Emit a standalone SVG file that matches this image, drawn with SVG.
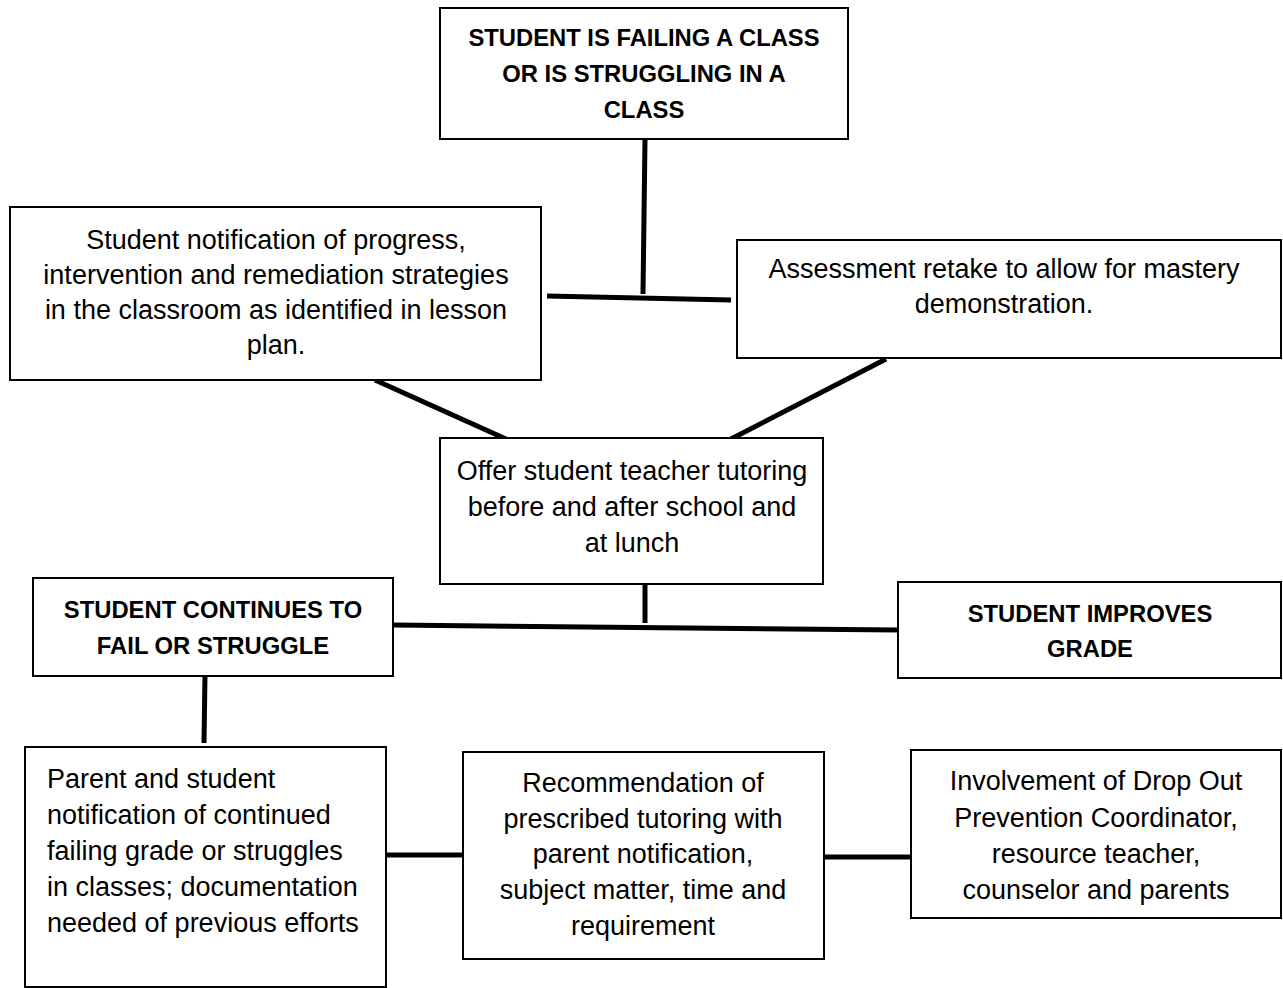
<svg xmlns="http://www.w3.org/2000/svg" width="1283" height="988" viewBox="0 0 1283 988">
<style>
.box{fill:#fff;stroke:#000;stroke-width:2}
.t{font-family:"Liberation Sans",Arial,sans-serif;font-size:27px;fill:#000;text-anchor:middle}
.b{font-weight:bold;font-size:23.8px}
.l{text-anchor:start}
.c{stroke:#000;stroke-width:5;fill:none}
</style>
<rect width="1283" height="988" fill="#fff"/>
<g id="connectors">
<line class="c" x1="645" y1="139" x2="643" y2="294"/>
<line class="c" x1="547" y1="296" x2="731" y2="300"/>
<line class="c" x1="375" y1="380" x2="506" y2="439"/>
<line class="c" x1="886" y1="359" x2="731" y2="439"/>
<line class="c" x1="645" y1="580" x2="645" y2="623"/>
<line class="c" x1="393" y1="625" x2="898" y2="630"/>
<line class="c" x1="205" y1="674" x2="204" y2="743"/>
<line class="c" x1="386" y1="855" x2="463" y2="855"/>
<line class="c" x1="824" y1="857" x2="911" y2="857"/>
</g>
<g id="n1">
<rect class="box" x="440" y="8" width="408" height="131"/>
<text class="t b" x="644" y="46">STUDENT IS FAILING A CLASS</text>
<text class="t b" x="644" y="82">OR IS STRUGGLING IN A</text>
<text class="t b" x="644" y="118">CLASS</text>
</g>
<g id="n2">
<rect class="box" x="10" y="207" width="531" height="173"/>
<text class="t" x="276" y="249">Student notification of progress,</text>
<text class="t" x="276" y="284">intervention and remediation strategies</text>
<text class="t" x="276" y="319">in the classroom as identified in lesson</text>
<text class="t" x="276" y="354">plan.</text>
</g>
<g id="n3">
<rect class="box" x="737" y="240" width="544" height="118"/>
<text class="t" x="1004" y="278">Assessment retake to allow for mastery</text>
<text class="t" x="1004" y="313">demonstration.</text>
</g>
<g id="n4">
<rect class="box" x="440" y="438" width="383" height="146"/>
<text class="t" x="632" y="480">Offer student teacher tutoring</text>
<text class="t" x="632" y="516">before and after school and</text>
<text class="t" x="632" y="552">at lunch</text>
</g>
<g id="n5">
<rect class="box" x="33" y="578" width="360" height="98"/>
<text class="t b" x="213" y="618">STUDENT CONTINUES TO</text>
<text class="t b" x="213" y="654">FAIL OR STRUGGLE</text>
</g>
<g id="n6">
<rect class="box" x="898" y="582" width="383" height="96"/>
<text class="t b" x="1090" y="622">STUDENT IMPROVES</text>
<text class="t b" x="1090" y="657">GRADE</text>
</g>
<g id="n7">
<rect class="box" x="25" y="747" width="361" height="240"/>
<text class="t l" x="47" y="788">Parent and student</text>
<text class="t l" x="47" y="824">notification of continued</text>
<text class="t l" x="47" y="860">failing grade or struggles</text>
<text class="t l" x="47" y="896">in classes; documentation</text>
<text class="t l" x="47" y="932">needed of previous efforts</text>
</g>
<g id="n8">
<rect class="box" x="463" y="752" width="361" height="207"/>
<text class="t" x="643" y="792">Recommendation of</text>
<text class="t" x="643" y="828">prescribed tutoring with</text>
<text class="t" x="643" y="863">parent notification,</text>
<text class="t" x="643" y="899">subject matter, time and</text>
<text class="t" x="643" y="935">requirement</text>
</g>
<g id="n9">
<rect class="box" x="911" y="750" width="370" height="168"/>
<text class="t" x="1096" y="790">Involvement of Drop Out</text>
<text class="t" x="1096" y="827">Prevention Coordinator,</text>
<text class="t" x="1096" y="863">resource teacher,</text>
<text class="t" x="1096" y="899">counselor and parents</text>
</g>
</svg>
